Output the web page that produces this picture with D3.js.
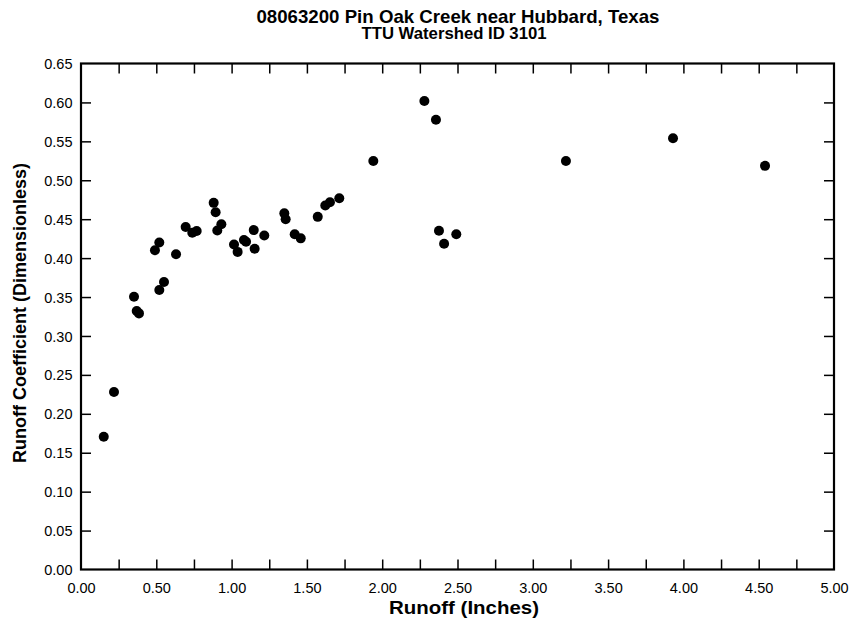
<!DOCTYPE html>
<html><head><meta charset="utf-8">
<script src="https://cdn.jsdelivr.net/npm/d3@7"></script>
<style>body{margin:0;background:#fff}</style>
</head><body>
<svg id="c" width="854" height="626"></svg>
<script>
const title = "08063200 Pin Oak Creek near Hubbard, Texas";
const subtitle = "TTU Watershed ID 3101";
const xLabel = "Runoff (Inches)";
const yLabel = "Runoff Coefficient (Dimensionless)";
const runoff = [0.151,0.219,0.352,0.370,0.385,0.520,0.551,0.491,0.520,0.631,0.695,0.739,0.768,0.881,0.894,0.905,0.932,1.016,1.040,1.082,1.096,1.147,1.153,1.217,1.350,1.359,1.419,1.459,1.572,1.622,1.653,1.715,1.941,2.280,2.357,2.377,2.411,2.492,3.220,3.931,4.542];
const coef   = [0.1706,0.228,0.3504,0.332,0.329,0.359,0.3693,0.410,0.420,0.405,0.440,0.4326,0.4348,0.471,0.459,0.4355,0.4435,0.4175,0.408,0.4233,0.421,0.436,0.412,0.429,0.4575,0.450,0.4307,0.4254,0.453,0.4676,0.4717,0.4768,0.5247,0.6018,0.5778,0.4352,0.4185,0.4306,0.5247,0.554,0.5185];
const xTicks = d3.range(0, 5.0001, 0.5);
const xMinor = d3.range(0, 5.0001, 0.25);
const yTicks = d3.range(0, 0.6501, 0.05);

const svg = d3.select("#c");
const font = "'Liberation Sans', Arial, Helvetica, sans-serif";
const L = 81, R = 834, T = 63.5, B = 569.5;
const x = d3.scaleLinear().domain([0, 5]).range([L, R]);
const y = d3.scaleLinear().domain([0, 0.65]).range([B, T]);

// titles
svg.append("text").attr("x", 458).attr("y", 22.5).attr("text-anchor","middle")
  .attr("font-family", font).attr("font-weight","bold").attr("font-size", 18.5)
  .attr("textLength", 403).attr("lengthAdjust","spacingAndGlyphs").text(title);
svg.append("text").attr("x", 454).attr("y", 39.3).attr("text-anchor","middle")
  .attr("font-family", font).attr("font-weight","bold").attr("font-size", 16)
  .attr("textLength", 185).attr("lengthAdjust","spacingAndGlyphs").text(subtitle);

// axes
const tl = 10;
const gx = svg.append("g").attr("transform", `translate(0,${B})`)
  .call(d3.axisBottom(x).tickValues(xMinor).tickSize(-tl).tickSizeOuter(0)
    .tickFormat(d => (Math.round(d*100) % 50 === 0) ? d3.format(".2f")(d) : ""));
const gxt = svg.append("g").attr("transform", `translate(0,${T})`)
  .call(d3.axisTop(x).tickValues(xMinor).tickSize(-tl).tickSizeOuter(0).tickFormat(""));
const gy = svg.append("g").attr("transform", `translate(${L},0)`)
  .call(d3.axisLeft(y).tickValues(yTicks).tickSize(-tl).tickSizeOuter(0).tickFormat(d3.format(".2f")));
const gyr = svg.append("g").attr("transform", `translate(${R},0)`)
  .call(d3.axisRight(y).tickValues(yTicks).tickSize(-tl).tickSizeOuter(0).tickFormat(""));
[gx,gxt,gy,gyr].forEach(g => {
  g.select(".domain").remove();
  g.selectAll(".tick line").attr("stroke","#000").attr("stroke-width",1.5);
  g.selectAll("text").attr("font-family", font).attr("font-size", 14.5).attr("fill","#000");
});
gx.selectAll("text").attr("dy", null).attr("y", 23.5);
gy.selectAll("text").attr("x", -8.5).attr("dy", "0.35em");
gx.selectAll(".tick").filter(d => d === 0 || d === 5).select("line").remove();
gxt.selectAll(".tick").filter(d => d === 0 || d === 5).select("line").remove();
gy.selectAll(".tick").filter(d => d < 0.001 || d > 0.649).select("line").remove();
gyr.selectAll(".tick").filter(d => d < 0.001 || d > 0.649).select("line").remove();

svg.append("rect").attr("x", L).attr("y", T).attr("width", R-L).attr("height", B-T)
  .attr("fill","none").attr("stroke","#000").attr("stroke-width",2.2);

// axis labels
svg.append("text").attr("x", 464).attr("y", 614).attr("text-anchor","middle")
  .attr("font-family", font).attr("font-weight","bold").attr("font-size", 19)
  .attr("textLength", 150).attr("lengthAdjust","spacingAndGlyphs").text(xLabel);
svg.append("text").attr("transform", `translate(26,313) rotate(-90)`).attr("text-anchor","middle")
  .attr("font-family", font).attr("font-weight","bold").attr("font-size", 17.5)
  .attr("textLength", 300).attr("lengthAdjust","spacingAndGlyphs").text(yLabel);

// points
svg.append("g").selectAll("circle").data(runoff.map((r,i)=>[r, coef[i]])).join("circle")
  .attr("cx", d => x(d[0])).attr("cy", d => y(d[1])).attr("r", 5).attr("fill","#000");
</script>
</body></html>
